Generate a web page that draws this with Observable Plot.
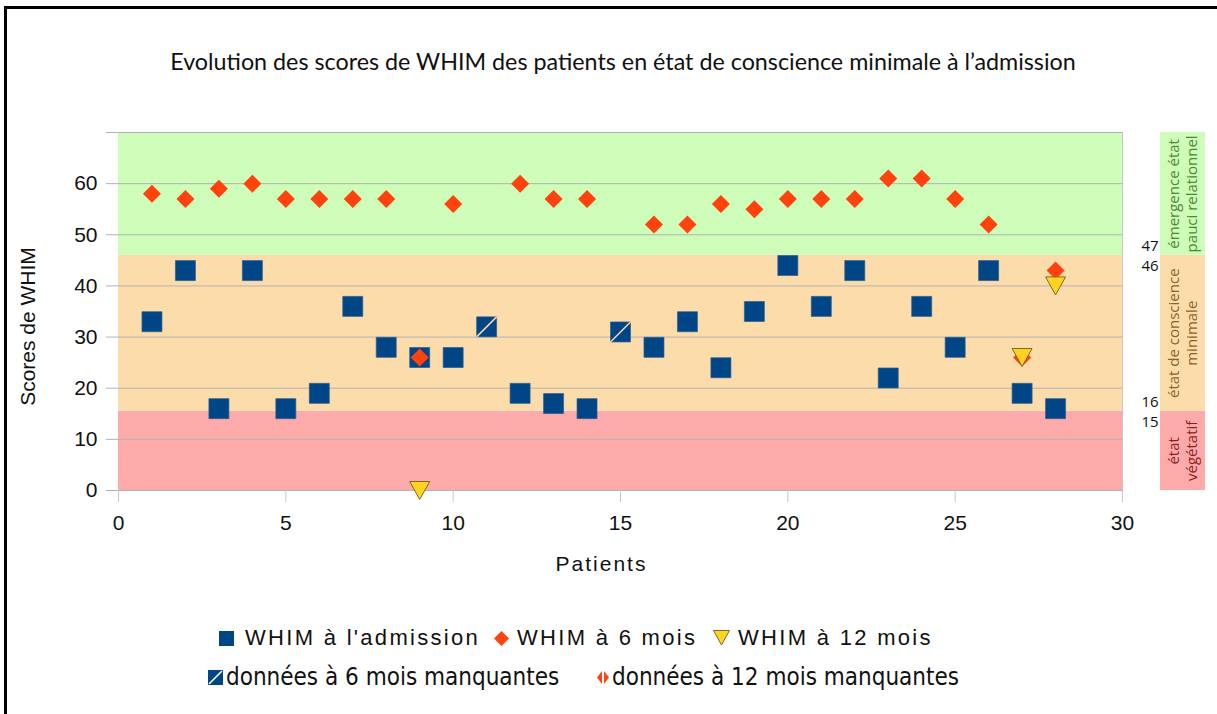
<!DOCTYPE html>
<html><head><meta charset="utf-8">
<script src="https://cdn.jsdelivr.net/npm/d3@7"></script>
<script src="https://cdn.jsdelivr.net/npm/@observablehq/plot@0.6"></script>
<style>
body{margin:0;background:#fff;}
#wrap{position:relative;width:1217px;height:714px;overflow:hidden;background:#fff;}
#frame{position:absolute;left:4px;top:6px;width:1300px;height:800px;border-left:3px solid #000;border-top:3px solid #000;pointer-events:none;}
#chart{position:absolute;left:0;top:0;}
#title{position:absolute;left:0;width:1246px;top:46px;text-align:center;font-family:Lato,"Open Sans",sans-serif;font-size:23.3px;color:#111;line-height:30px;white-space:nowrap;}
.lg{position:absolute;white-space:nowrap;color:#111;}
.r1{font-family:"Liberation Sans",Arial,sans-serif;font-size:22px;letter-spacing:2.3px;line-height:26px;top:625px;}
.r2{font-family:"DejaVu Sans Condensed","DejaVu Sans",sans-serif;font-stretch:condensed;font-size:24px;line-height:30px;top:662px;}
.sym{position:absolute;}
</style></head>
<body>
<div id="wrap">
  <div id="chart"></div>
  <div id="title"></div>
  <div id="legend"></div>
  <div id="frame"></div>
</div>
<script>
// ---------- data ----------
const titleText = "Evolution des scores de WHIM des patients en état de conscience minimale à l’admission";
const patients = [1,2,3,4,5,6,7,8,9,10,11,12,13,14,15,16,17,18,19,20,21,22,23,24,25,26,27,28];
const admission = [33,43,16,43,16,19,36,28,26,26,32,19,17,16,31,28,33,24,35,44,36,43,22,36,28,43,19,16];
const sixMonths = [58,57,59,60,57,57,57,57,26,56,null,60,57,57,null,52,52,56,55,57,57,57,61,61,57,52,26,43];
const twelvePatients = [9,27,28];
const twelveScores = [0,26,40];
const missingSixPatients = [11,15];
const bandNames = ["état\nvégétatif","état de conscience\nminimale","émergence état\npauci relationnel"];
const bandLow = [0,15.5,46];
const bandHigh = [15.5,46,70];
const upperLabels = ["47","16"];
const lowerLabels = ["46","15"];
const thresholdValues = [46,15.5];
const xTicks = [0,5,10,15,20,25,30];
const yTicks = [0,10,20,30,40,50,60,70];
const yLabel = "Scores de WHIM";
const xLabel = "Patients";
const legendRow1 = ["WHIM à l'admission","WHIM à 6 mois","WHIM à 12 mois"];
const legendRow2 = ["données à 6 mois manquantes","données à 12 mois manquantes"];

// ---------- styles ----------
const bandFill = ["#fdaaaa","#fddcab","#cdfdb9"];
const bandTextColor = ["#8e1c1c","#8f6128","#4c8a2e"];
const BLUE = "#004586", ORANGE = "#ff420e", YELLOW = "#ffd320";

// ---------- tables ----------
const bands = bandNames.map((name,i)=>({name, lo:bandLow[i], hi:bandHigh[i], i}));
const adm = patients.map((p,i)=>({patient:p, score:admission[i]}));
const six = patients.map((p,i)=>({patient:p, score:sixMonths[i]})).filter(d=>d.score!=null);
const twelve = twelvePatients.map((p,i)=>({patient:p, score:twelveScores[i]}));
const missing = adm.filter(d=>missingSixPatients.includes(d.patient));
const upper = upperLabels.map((t,i)=>({t, y:thresholdValues[i]}));
const lower = lowerLabels.map((t,i)=>({t, y:thresholdValues[i]}));

// ---------- custom symbols (size = side²) ----------
const sqSym = {draw(c,s){const h=Math.sqrt(s)/2; c.moveTo(-h,-h); c.lineTo(h,-h); c.lineTo(h,h); c.lineTo(-h,h); c.closePath();}};
const slashSym = {draw(c,s){const h=Math.sqrt(s)/2; c.moveTo(-h,h); c.lineTo(h,-h);}};
const diaSym = {draw(c,s){const h=Math.sqrt(s)/2; c.moveTo(0,-h); c.lineTo(h,0); c.lineTo(0,h); c.lineTo(-h,0); c.closePath();}};
const triSym = {draw(c,s){const w=Math.sqrt(s)/2, hh=w*0.9; c.moveTo(-w,-hh); c.lineTo(w,-hh); c.lineTo(0,hh); c.closePath();}};
const R = side => side/Math.sqrt(Math.PI);

const chart = Plot.plot({
  width: 1217, height: 600,
  marginLeft: 118, marginRight: 95, marginTop: 132, marginBottom: 110,
  style: {fontFamily: "'Liberation Sans', Arial, sans-serif", fontSize: "21px", color: "#111", background: "transparent", overflow: "visible"},
  x: {domain: [0,30]},
  y: {domain: [0,70]},
  marks: [
    Plot.rect(bands, {x1: 0, x2: 30, y1: "lo", y2: "hi", fill: d=>bandFill[d.i]}),
    Plot.gridY(yTicks, {stroke: "#b3b3b3", strokeOpacity: 1}),
    Plot.ruleX([30], {y1: 0, y2: 70, stroke: "#c8c8c8"}),
    Plot.axisY(yTicks, {tickSize: 12, tickPadding: 9, stroke: "#b3b3b3", fill: "#111", label: null, tickFormat: d => d <= 60 ? d : ""}),
    Plot.axisX(xTicks, {tickSize: 12, tickPadding: 13, stroke: "#c8c8c8", fill: "#111", label: null}),
    // right-hand band captions
    Plot.rect(bands, {y1: "lo", y2: "hi", fill: d=>bandFill[d.i], insetLeft: 1042, insetRight: -83}),
    Plot.text(bands, {y: d=>(d.lo+d.hi)/2, text: "name", frameAnchor: "right", textAnchor: "middle", dx: 60, rotate: -90, fill: d=>bandTextColor[d.i], fontSize: 15, lineHeight: 1.2, fontFamily: "'Open Sans', sans-serif"}),
    Plot.text(upper, {y: "y", text: "t", frameAnchor: "right", dx: 19, dy: -9, textAnchor: "start", fill: "#111", fontSize: 15, fontFamily: "'Open Sans', sans-serif"}),
    Plot.text(lower, {y: "y", text: "t", frameAnchor: "right", dx: 19, dy: 11, textAnchor: "start", fill: "#111", fontSize: 15, fontFamily: "'Open Sans', sans-serif"}),
    // data
    Plot.dot(adm, {x: "patient", y: "score", symbol: sqSym, r: R(20), fill: BLUE, stroke: "#2a5e93", strokeWidth: 0.7}),
    Plot.dot(missing, {x: "patient", y: "score", symbol: slashSym, r: R(20), stroke: "#f3d3a6", strokeWidth: 1.6}),
    Plot.dot(six, {x: "patient", y: "score", symbol: diaSym, r: R(18), fill: ORANGE}),
    Plot.dot(twelve, {x: "patient", y: "score", symbol: triSym, r: R(20), fill: YELLOW, stroke: "#6f5e22", strokeWidth: 0.9}),
    // axis titles
    Plot.text([yLabel], {frameAnchor: "left", textAnchor: "middle", dx: -90, dy: 15, rotate: -90, fill: "#111", fontSize: 21}),
    Plot.text([xLabel], {frameAnchor: "bottom", textAnchor: "middle", dx: -19, dy: 80, fill: "#111", fontSize: 21})
  ]
});
d3.select(chart).selectAll("text").filter(function(){ return this.textContent === xLabel; }).style("letter-spacing", "2px");
document.getElementById("chart").appendChild(chart);
document.getElementById("title").textContent = titleText;

// ---------- legend ----------
const L = document.getElementById("legend");
function add(html){ L.insertAdjacentHTML("beforeend", html); }
// row 1
add(`<svg class="sym" style="left:219px;top:631px" width="15" height="15"><rect width="15" height="15" fill="${BLUE}"/></svg>`);
add(`<span class="lg r1" style="left:245px">${legendRow1[0]}</span>`);
add(`<svg class="sym" style="left:494px;top:631px" width="15" height="15"><path d="M7.5 0L15 7.5L7.5 15L0 7.5Z" fill="${ORANGE}"/></svg>`);
add(`<span class="lg r1" style="left:517px">${legendRow1[1]}</span>`);
add(`<svg class="sym" style="left:713px;top:630px" width="17" height="16"><path d="M0.5 0.5L16.5 0.5L8.5 15Z" fill="${YELLOW}" stroke="#6f5e22" stroke-width="0.9"/></svg>`);
add(`<span class="lg r1" style="left:738px">${legendRow1[2]}</span>`);
// row 2
add(`<svg class="sym" style="left:208px;top:670px" width="15" height="15"><rect width="15" height="15" fill="${BLUE}"/><path d="M1 14L14 1" stroke="#fff" stroke-width="1.6"/></svg>`);
add(`<span class="lg r2" style="left:226px">${legendRow2[0]}</span>`);
add(`<svg class="sym" style="left:597px;top:671px" width="12" height="13"><path d="M5 0L0 6.5L5 13Z" fill="${ORANGE}"/><path d="M7 0L12 6.5L7 13Z" fill="${ORANGE}"/></svg>`);
add(`<span class="lg r2" style="left:612px">${legendRow2[1]}</span>`);
</script>
</body></html>
